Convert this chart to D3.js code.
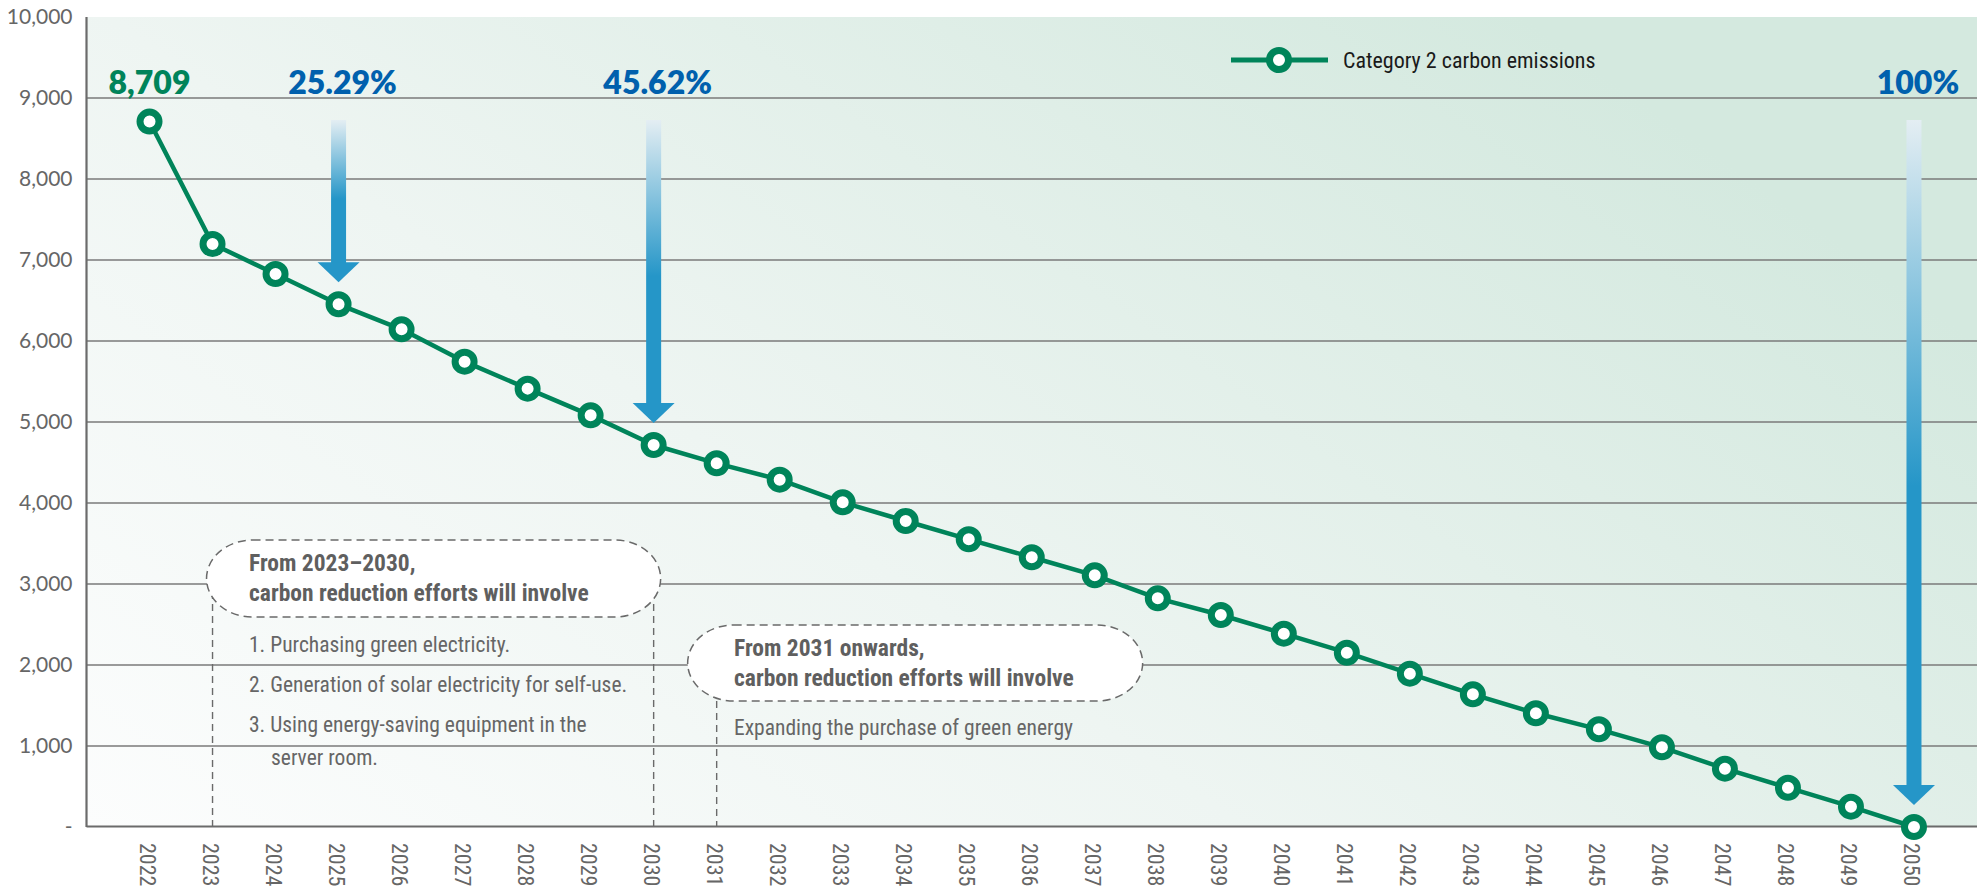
<!DOCTYPE html>
<html>
<head>
<meta charset="utf-8">
<script src="https://cdn.jsdelivr.net/npm/d3@7/dist/d3.min.js"></script>
<style>
  html, body { margin: 0; padding: 0; background: #ffffff; }
  svg { display: block; }
  .cond { font-family: "Liberation Sans Narrow", "Roboto Condensed", "DejaVu Sans", sans-serif; font-stretch: condensed; }
  .bold { font-family: "Lato", "Open Sans", sans-serif; font-weight: 800; }
</style>
</head>
<body>
<svg id="chart" width="1981" height="892"></svg>
<script>
// ---------- DATA ----------
const years = ["2022","2023","2024","2025","2026","2027","2028","2029","2030","2031","2032","2033","2034","2035","2036","2037","2038","2039","2040","2041","2042","2043","2044","2045","2046","2047","2048","2049","2050"];
const emissions = [8709, 7198, 6827, 6453, 6144, 5745, 5412, 5082, 4716, 4490, 4288, 4008, 3778, 3552, 3330, 3107, 2823, 2617, 2387, 2152, 1893, 1638, 1404, 1206, 984, 720, 485, 251, 0];
const yTicks = [0, 1000, 2000, 3000, 4000, 5000, 6000, 7000, 8000, 9000, 10000];
const seriesName = "Category 2 carbon emissions";
const startLabel = "8,709";
const milestoneYears = ["2025", "2030", "2050"];
const milestoneLabels = ["25.29%", "45.62%", "100%"];
const note1Title = ["From 2023–2030,", "carbon reduction efforts will involve"];
const note1Items = ["1. Purchasing green electricity.", "2. Generation of solar electricity for self-use.", "3. Using energy-saving equipment in the", "server room."];
const note1Range = ["2023", "2030"];
const note2Title = ["From 2031 onwards,", "carbon reduction efforts will involve"];
const note2Items = ["Expanding the purchase of green energy"];
const note2Year = "2031";

(function () {
// ---------- SETUP ----------
const svg = d3.select("#chart");
const pL = 86.5, pR = 1977, pT = 17, pB = 827;
const x = d3.scalePoint().domain(years).range([pL, pR]).padding(1);
const y = d3.scaleLinear().domain([0, 10000]).range([pB, pT]);

const green = "#00845a";
const gray = "#666666";
const blueText = "#0060ad";
const blue = "#2596c8";

const defs = svg.append("defs");
const bg = defs.append("linearGradient").attr("id", "bgGrad")
  .attr("x1", "0").attr("y1", "1").attr("x2", "1").attr("y2", "0.4");
bg.append("stop").attr("offset", "0").attr("stop-color", "#fcfdfd");
bg.append("stop").attr("offset", "0.45").attr("stop-color", "#eef5f2");
bg.append("stop").attr("offset", "1").attr("stop-color", "#d4e9df");

const ag = defs.append("linearGradient").attr("id", "arrowGrad")
  .attr("x1", "0").attr("y1", "0").attr("x2", "0").attr("y2", "1");
ag.append("stop").attr("offset", "0").attr("stop-color", "#e4eef3");
ag.append("stop").attr("offset", "0.55").attr("stop-color", blue);
ag.append("stop").attr("offset", "1").attr("stop-color", blue);

// background
svg.append("rect").attr("x", pL).attr("y", pT)
  .attr("width", pR - pL).attr("height", pB - pT)
  .attr("fill", "url(#bgGrad)");

// gridlines
svg.append("g").selectAll("line")
  .data(yTicks.filter(d => d > 0 && d < 10000))
  .join("line")
  .attr("x1", pL).attr("x2", pR)
  .attr("y1", d => y(d)).attr("y2", d => y(d))
  .attr("stroke", "#7a7a7a").attr("stroke-width", 1.3);

// y axis labels
const yAxis = d3.axisLeft(y).tickValues(yTicks)
  .tickFormat(d => d === 0 ? "-" : d3.format(",")(d))
  .tickSize(0).tickPadding(14);
const yg = svg.append("g").attr("transform", `translate(${pL},0)`).call(yAxis);
yg.select(".domain").remove();
yg.selectAll("text").style("font-family", "Lato, 'Open Sans', sans-serif")
  .style("font-size", "21px").attr("fill", gray);

// x axis labels
const xAxis = d3.axisBottom(x).tickSize(0).tickPadding(0);
const xg = svg.append("g").attr("transform", `translate(0,${pB})`).call(xAxis);
xg.select(".domain").remove();
xg.attr("font-family", null).attr("font-size", null);
xg.selectAll("text")
  .attr("class", "cond")
  .style("font-size", "22px")
  .attr("fill", gray)
  .attr("text-anchor", "start")
  .attr("dy", null)
  .attr("y", 0)
  .attr("transform", "translate(-3,16) rotate(90)")
  .attr("dominant-baseline", "central");

// dashed verticals for notes
const dashV = svg.append("g").attr("stroke", "#6a6a6a").attr("stroke-width", 1.4)
  .attr("stroke-dasharray", "7,5").attr("fill", "none");
note1Range.forEach(yr => {
  dashV.append("line").attr("x1", x(yr)).attr("x2", x(yr)).attr("y1", 580).attr("y2", pB);
});
dashV.append("line").attr("x1", x(note2Year)).attr("x2", x(note2Year)).attr("y1", 665).attr("y2", pB);

// note boxes
function noteBox(x0, x1, y0, h, titles, items, tx, itemY) {
  const g = svg.append("g");
  g.append("rect").attr("x", x0).attr("y", y0).attr("width", x1 - x0).attr("height", h)
    .attr("rx", 46).attr("ry", h / 2)
    .attr("fill", "#ffffff").attr("stroke", "#6a6a6a").attr("stroke-width", 1.5)
    .attr("stroke-dasharray", "8,5");
  titles.forEach((t, i) => {
    g.append("text").attr("class", "cond").attr("x", tx).attr("y", y0 + 31 + i * 29.5)
      .style("font-size", "23.5px").style("font-weight", "bold").attr("fill", "#5f5f5f").text(t);
  });
  items.forEach((t, i) => {
    g.append("text").attr("class", "cond")
      .attr("x", (i === 3) ? tx + 22 : tx)
      .attr("y", itemY + (i < 3 ? i * 40.3 : 2 * 40.3 + 33))
      .style("font-size", "21.5px").attr("fill", gray).text(t);
  });
}
noteBox(x(note1Range[0]) - 6, x(note1Range[1]) + 7, 540, 77, note1Title, note1Items, 249, 651.5);
noteBox(x(note2Year) - 29, x(note2Year) + 426, 625, 76, note2Title, note2Items, 734, 735);

// axis lines
svg.append("line").attr("x1", pL).attr("x2", pL).attr("y1", pT).attr("y2", pB)
  .attr("stroke", "#6b6b6b").attr("stroke-width", 2.2);
svg.append("line").attr("x1", pL).attr("x2", pR).attr("y1", pB - 0.5).attr("y2", pB - 0.5)
  .attr("stroke", "#6b6b6b").attr("stroke-width", 2.2);

// series line
const data = years.map((yr, i) => ({ yr, v: emissions[i] }));
svg.append("path").datum(data)
  .attr("fill", "none").attr("stroke", green).attr("stroke-width", 4.5)
  .attr("stroke-linejoin", "round")
  .attr("d", d3.line().x(d => x(d.yr)).y(d => y(d.v)));
svg.append("g").selectAll("circle").data(data).join("circle")
  .attr("cx", d => x(d.yr)).attr("cy", d => y(d.v)).attr("r", 9.5)
  .attr("fill", "#ffffff").attr("stroke", green).attr("stroke-width", 7);

// milestone arrows
const shaftTop = 120, shaftW = 15, headH = 20, headW = 42;
milestoneYears.forEach((yr, i) => {
  const cx = x(yr);
  const v = emissions[years.indexOf(yr)];
  const tip = y(v) - 22;
  const hTop = tip - headH;
  svg.append("rect").attr("x", cx - shaftW / 2).attr("y", shaftTop)
    .attr("width", shaftW).attr("height", hTop - shaftTop + 1)
    .attr("fill", "url(#arrowGrad)");
  svg.append("path")
    .attr("d", `M${cx - headW / 2},${hTop} L${cx + headW / 2},${hTop} L${cx},${tip} Z`)
    .attr("fill", blue);
  svg.append("text").attr("class", "bold").attr("x", cx + 4).attr("y", 94)
    .attr("text-anchor", "middle").style("font-size", "32px").attr("fill", blueText)
    .text(milestoneLabels[i]);
});

// start label
svg.append("text").attr("class", "bold").attr("x", x(years[0])).attr("y", 94)
  .attr("text-anchor", "middle").style("font-size", "32px").attr("fill", green)
  .text(startLabel);

// legend
const lg = svg.append("g");
lg.append("line").attr("x1", 1231).attr("x2", 1328).attr("y1", 60).attr("y2", 60)
  .attr("stroke", green).attr("stroke-width", 5);
lg.append("circle").attr("cx", 1279).attr("cy", 60).attr("r", 9.5)
  .attr("fill", "#ffffff").attr("stroke", green).attr("stroke-width", 7);
lg.append("text").attr("class", "cond").attr("x", 1343).attr("y", 68)
  .style("font-size", "22px").attr("fill", "#1a1a1a").text(seriesName);
})();
</script>
</body>
</html>
